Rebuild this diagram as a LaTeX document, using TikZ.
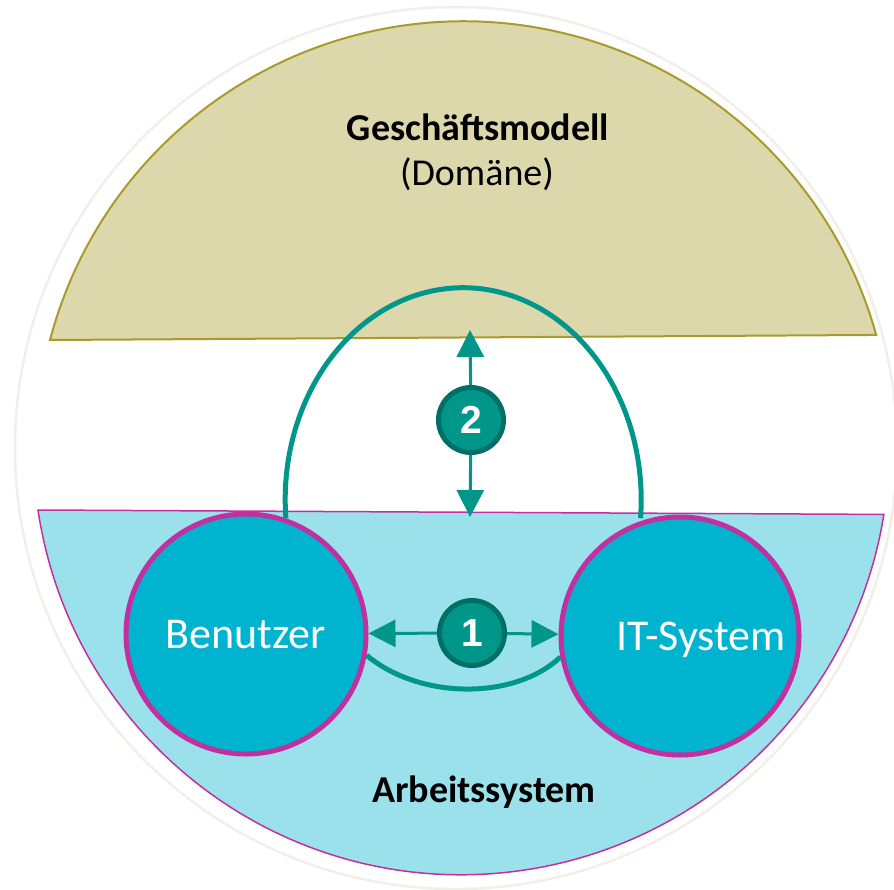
\documentclass[tikz,border=0pt]{standalone}
\usepackage{fontspec}
\setmainfont{Carlito}
\newfontfamily\numfont{Liberation Sans}
\usepackage{tikz}
\usetikzlibrary{arrows.meta, calc, positioning}
\definecolor{ringgray}{HTML}{F2EFE8}
\definecolor{khakifill}{HTML}{DDD7AC}
\definecolor{khakiline}{HTML}{A89B2B}
\definecolor{cyanfill}{HTML}{9BE1EC}
\definecolor{magline}{HTML}{C2309F}
\definecolor{actorfill}{HTML}{00B4D0}
\definecolor{tealmain}{HTML}{00968A}
\definecolor{tealdark}{HTML}{006F66}
\tikzstyle{actor} = [circle, minimum size=240pt, inner sep=0pt, text depth=0pt, fill=actorfill, draw=magline, line width=5pt, text=white, font=\fontsize{44}{48}\selectfont]
\tikzstyle{numdot} = [circle, minimum size=65pt, inner sep=0pt, fill=tealmain, draw=tealdark, line width=5pt, text=white, font=\numfont\bfseries\fontsize{39}{42}\selectfont]
\tikzstyle{arrow} = [line width=3pt, draw=tealmain, fill=tealmain, -{Triangle[length=27pt,width=27pt]}]
\tikzstyle{loop} = [line width=5pt, draw=tealmain]
\tikzstyle{title} = [font=\fontsize{38}{42}\selectfont]

\begin{document}
\begin{tikzpicture}[x=1pt, y=1pt]
            \useasboundingbox (0,0) rectangle (894,-889);
            % faint outer ring
            \draw [ringgray, line width=2.5pt] (456,-448) circle (441);

            % Geschaeftsmodell segment
            \filldraw [fill=khakifill, draw=khakiline, line width=2pt] (50,-340) arc[start angle=165.2, end angle=15.5, radius=428] -- cycle;
            \node[title, font=\bfseries\fontsize{38}{42}\selectfont] (gm) at (478,-127) {Geschäftsmodell};
            \node[title] (dom) at (477,-174) {(Domäne)};

            % Arbeitssystem segment
            \filldraw [fill=cyanfill, draw=magline, line width=1.5pt] (38,-510) arc[start angle=188.5, end angle=350.9, radius=428] -- cycle;
            \node[title, font=\bfseries\fontsize{38}{42}\selectfont] (as) at (484,-792) {Arbeitssystem};

            \node[actor] (ben) at (246,-634) {Benutzer};
            \node[actor, minimum size=238pt] (its) at (680,-636) {\hspace*{42pt}IT-System};

            \draw[loop] (ben.71) arc[start angle=185, end angle=-5, x radius=178, y radius=212];
            \draw[loop] (ben.-10) .. controls (420,-700) and (515,-700) .. (its.190);

            \node[numdot] (n2) at (471,-420) {2};
            \node[numdot] (n1) at (472,-633) {1};

            \coordinate (up2) at (470,-330);
            \coordinate (dn2) at (470,-517);
            \draw[arrow] (n2) -- (up2);
            \draw[arrow] (n2) -- (dn2);
            \draw[arrow] (n1) -- (ben);
            \draw[arrow] (n1) -- (its);
          \end{tikzpicture}
\end{document}
